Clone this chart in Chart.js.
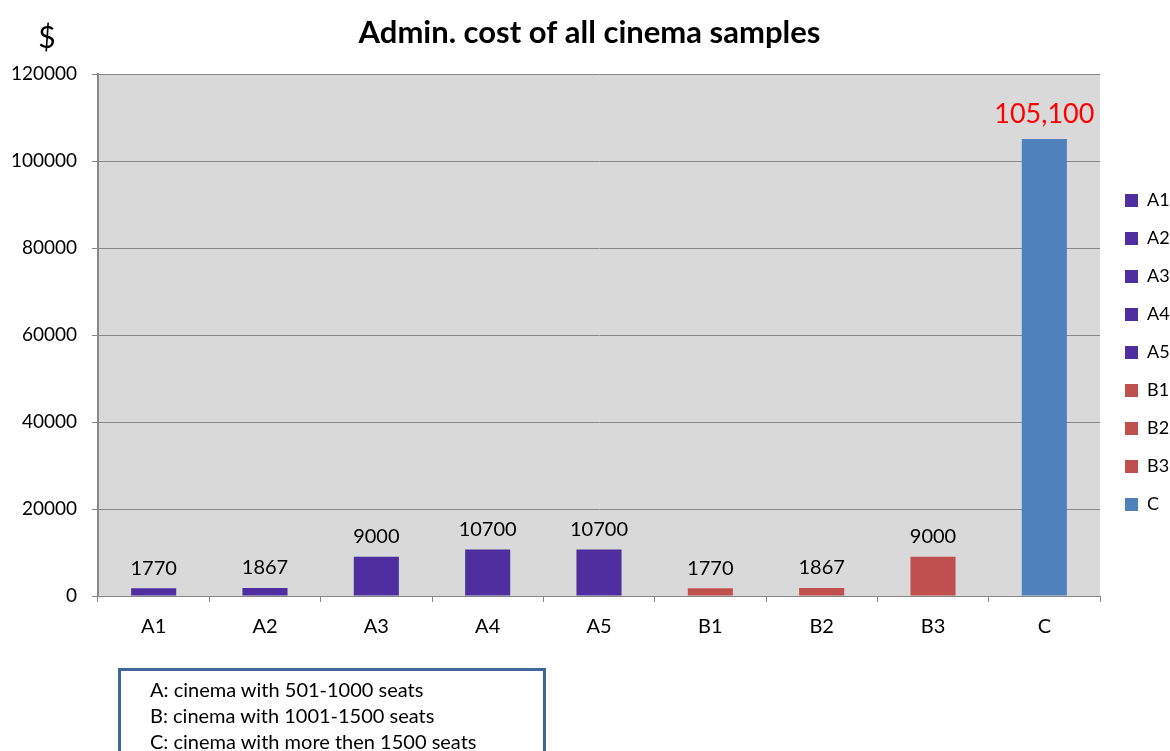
<!DOCTYPE html>
<html>
<head>
<meta charset="utf-8">
<script src="https://cdn.jsdelivr.net/npm/chart.js@4/dist/chart.umd.min.js"></script>
<style>
  html, body { margin: 0; padding: 0; background: #fff; }
  #wrap { position: relative; width: 1170px; height: 751px; overflow: hidden; }
  #noteBox {
    position: absolute; left: 118px; top: 668px; width: 428px; height: 120px;
    border: 3px solid #41679a; box-sizing: border-box;
    padding: 5px 0 0 29px;
    font-family: Lato, sans-serif; font-size: 20px; line-height: 26px; color: #000;
  }
</style>
</head>
<body>
<div id="wrap">
  <canvas id="costChart" width="1170" height="751"></canvas>
  <div id="noteBox">
    <div>A: cinema with 501-1000 seats</div>
    <div>B: cinema with 1001-1500 seats</div>
    <div>C: cinema with more then 1500 seats</div>
  </div>
</div>
<script>
// ─────────────────────────────────────────────────────────────
// Data
// ─────────────────────────────────────────────────────────────
const categories = ['A1', 'A2', 'A3', 'A4', 'A5', 'B1', 'B2', 'B3', 'C'];
const costs      = [1770, 1867, 9000, 10700, 10700, 1770, 1867, 9000, 105100];
const barColors  = ['#4f2f9f', '#4f2f9f', '#4f2f9f', '#4f2f9f', '#4f2f9f',
                    '#c0504d', '#c0504d', '#c0504d', '#4f81bd'];
const yTicks     = [0, 20000, 40000, 60000, 80000, 100000, 120000];

const FONT = 'Lato';

// one series per sample, each holding a value only at its own category
const datasets = categories.map((name, i) => ({
    label: name,
    data: categories.map((_, j) => (i === j ? costs[i] : null)),
    backgroundColor: barColors[i],
    borderWidth: 0
}));

// grey plot background
const plotBackground = {
    id: 'plotBackground',
    beforeDraw(chart) {
        const { ctx, chartArea: a } = chart;
        ctx.save();
        ctx.fillStyle = '#d9d9d9';
        ctx.fillRect(a.left, a.top, a.right - a.left, a.bottom - a.top);
        ctx.restore();
    }
};

// value labels over the bars, plus the "$" unit label
const valueLabels = {
    id: 'valueLabels',
    afterDatasetsDraw(chart) {
        const ctx = chart.ctx;
        ctx.save();
        ctx.textAlign = 'center';
        ctx.textBaseline = 'middle';
        chart.data.datasets.forEach((ds, i) => {
            const meta = chart.getDatasetMeta(i);
            meta.data.forEach((bar, j) => {
                const v = ds.data[j];
                if (v === null) return;
                if (categories[j] === 'C') {
                    ctx.fillStyle = '#ff0000';
                    ctx.font = `27px ${FONT}`;
                    ctx.fillText(v.toLocaleString('en-US'), bar.x, bar.y - 25);
                } else {
                    ctx.fillStyle = '#000';
                    ctx.font = `20px ${FONT}`;
                    ctx.fillText(String(v), bar.x, bar.y - 20);
                }
            });
        });
        ctx.fillStyle = '#000';
        ctx.font = `30px ${FONT}`;
        ctx.fillText('$', 47, 38);
        ctx.restore();
    }
};

// narrow legend column, sitting just right of the plot
const legendFit = {
    id: 'legendFit',
    beforeInit(chart) {
        const legend = chart.legend;
        const fit = legend.fit;
        legend.fit = function () { fit.call(this); this.width = 70; };
    },
    afterLayout(chart) {
        const lg = chart.legend;
        lg.left += 5;  lg.right += 5;
        lg.top += 32;  lg.bottom += 32;
    }
};

new Chart(document.getElementById('costChart'), {
    type: 'bar',
    data: { labels: categories, datasets: datasets },
    options: {
        responsive: false,
        animation: false,
        grouped: false,
        categoryPercentage: 1,
        barPercentage: 0.405,
        layout: { padding: { left: 9, right: 0, top: 0, bottom: 110 } },
        plugins: {
            title: {
                display: true,
                text: 'Admin. cost of all cinema samples',
                color: '#000',
                font: { family: FONT, size: 31, weight: 'bold' },
                padding: { top: 14, bottom: 23 }
            },
            legend: {
                position: 'right',
                labels: {
                    color: '#000',
                    font: { family: FONT, size: 18 },
                    boxWidth: 13,
                    boxHeight: 13,
                    padding: 20
                }
            },
            tooltip: { enabled: false }
        },
        scales: {
            x: {
                afterFit(scale) { scale.height = 45; },
                grid: {
                    offset: true,
                    drawOnChartArea: false,
                    drawTicks: true,
                    tickLength: 6,
                    color: '#888888'
                },
                border: { color: '#888888', width: 1 },
                ticks: {
                    color: '#000',
                    font: { family: FONT, size: 20 },
                    padding: 13
                }
            },
            y: {
                min: yTicks[0],
                max: yTicks[yTicks.length - 1],
                afterFit(scale) { scale.width = 89; },
                afterBuildTicks(scale) {
                    scale.ticks = yTicks.map(v => ({ value: v }));
                },
                grid: {
                    color: '#888888',
                    tickLength: 6,
                    lineWidth: 1
                },
                border: { color: '#888888', width: 2 },
                ticks: {
                    color: '#000',
                    font: { family: FONT, size: 19 },
                    padding: 15,
                    callback: v => String(v)
                }
            }
        }
    },
    plugins: [plotBackground, valueLabels, legendFit]
});
</script>
</body>
</html>
